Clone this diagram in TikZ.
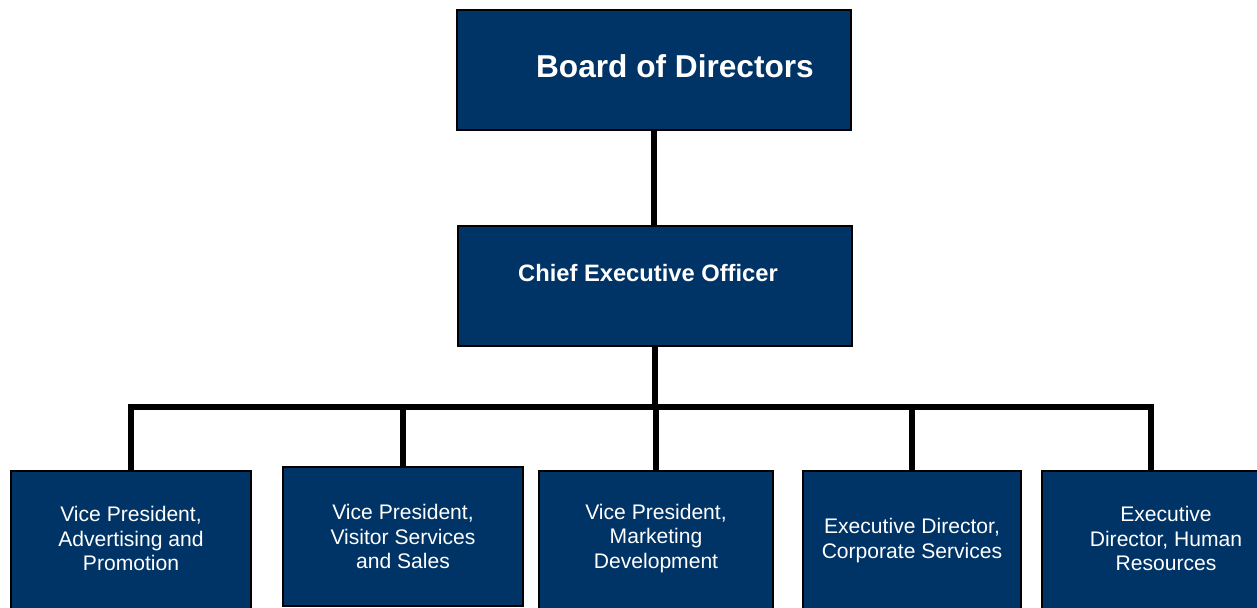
\documentclass[tikz,border=0pt]{standalone}
\usepackage{fontspec}
\setmainfont{Liberation Sans}
\usepackage{tikz}
\usetikzlibrary{positioning,calc}
\definecolor{navy}{HTML}{003366}

\begin{document}
\begin{tikzpicture}[
    topbox/.style={draw=black,line width=1pt,fill=navy,minimum width=7.88cm,minimum height=2.4cm,inner sep=0pt},
    title/.style={text=white,inner sep=0pt},
    dept/.style={draw=black,line width=1pt,fill=navy,anchor=north,minimum height=2.9cm,text depth=0.2cm,inner sep=0pt,align=center,text=white,font=\fontsize{12}{13.9}\selectfont},
    link/.style={line width=3.3pt}
  ]
    \useasboundingbox (0,0) rectangle (25.14,12.16);

    % Board and CEO
    \node[topbox] (bod) at (13.08,10.76) {};
    \node[title,font=\fontsize{18}{21}\selectfont\bfseries] (bodtxt) at (13.50,10.84) {Board of Directors};
    \node[topbox] (ceo) at (13.10,6.44) {};
    \node[title,font=\fontsize{13.5}{16}\selectfont\bfseries] (ceotxt) at (12.96,6.70) {Chief Executive Officer};

    % Departments
    \node[dept,minimum width=4.8cm] (vpad) at (2.62,2.76) {Vice President,\\Advertising and\\Promotion};
    \node[dept,minimum width=4.8cm,minimum height=2.78cm,text depth=0cm] (vpvs) at (8.06,2.84) {Vice President,\\Visitor Services\\and Sales};
    \node[dept,minimum width=4.68cm,text depth=0.29cm] (vpmd) at (13.12,2.76) {Vice President,\\Marketing\\Development};
    \node[dept,minimum width=4.36cm] (edcs) at (18.24,2.76) {Executive Director,\\Corporate Services};
    \node[dept,minimum width=4.96cm] (edhr) at (23.32,2.76) {Executive\\Director, Human\\Resources};

    % Reporting lines
    \coordinate (hub) at (ceo.south |- 0,4.02);
    \draw[link] (bod.south) -- (bod.south |- ceo.north);
    \draw[link] (ceo.south) -- (hub);
    \foreach \d in {vpad,vpvs,vpmd,edcs}
      \draw[link] (hub) -| (\d.north);
    \draw[link] (hub) -| ([xshift=-0.3cm]edhr.north);
\end{tikzpicture}
\end{document}
